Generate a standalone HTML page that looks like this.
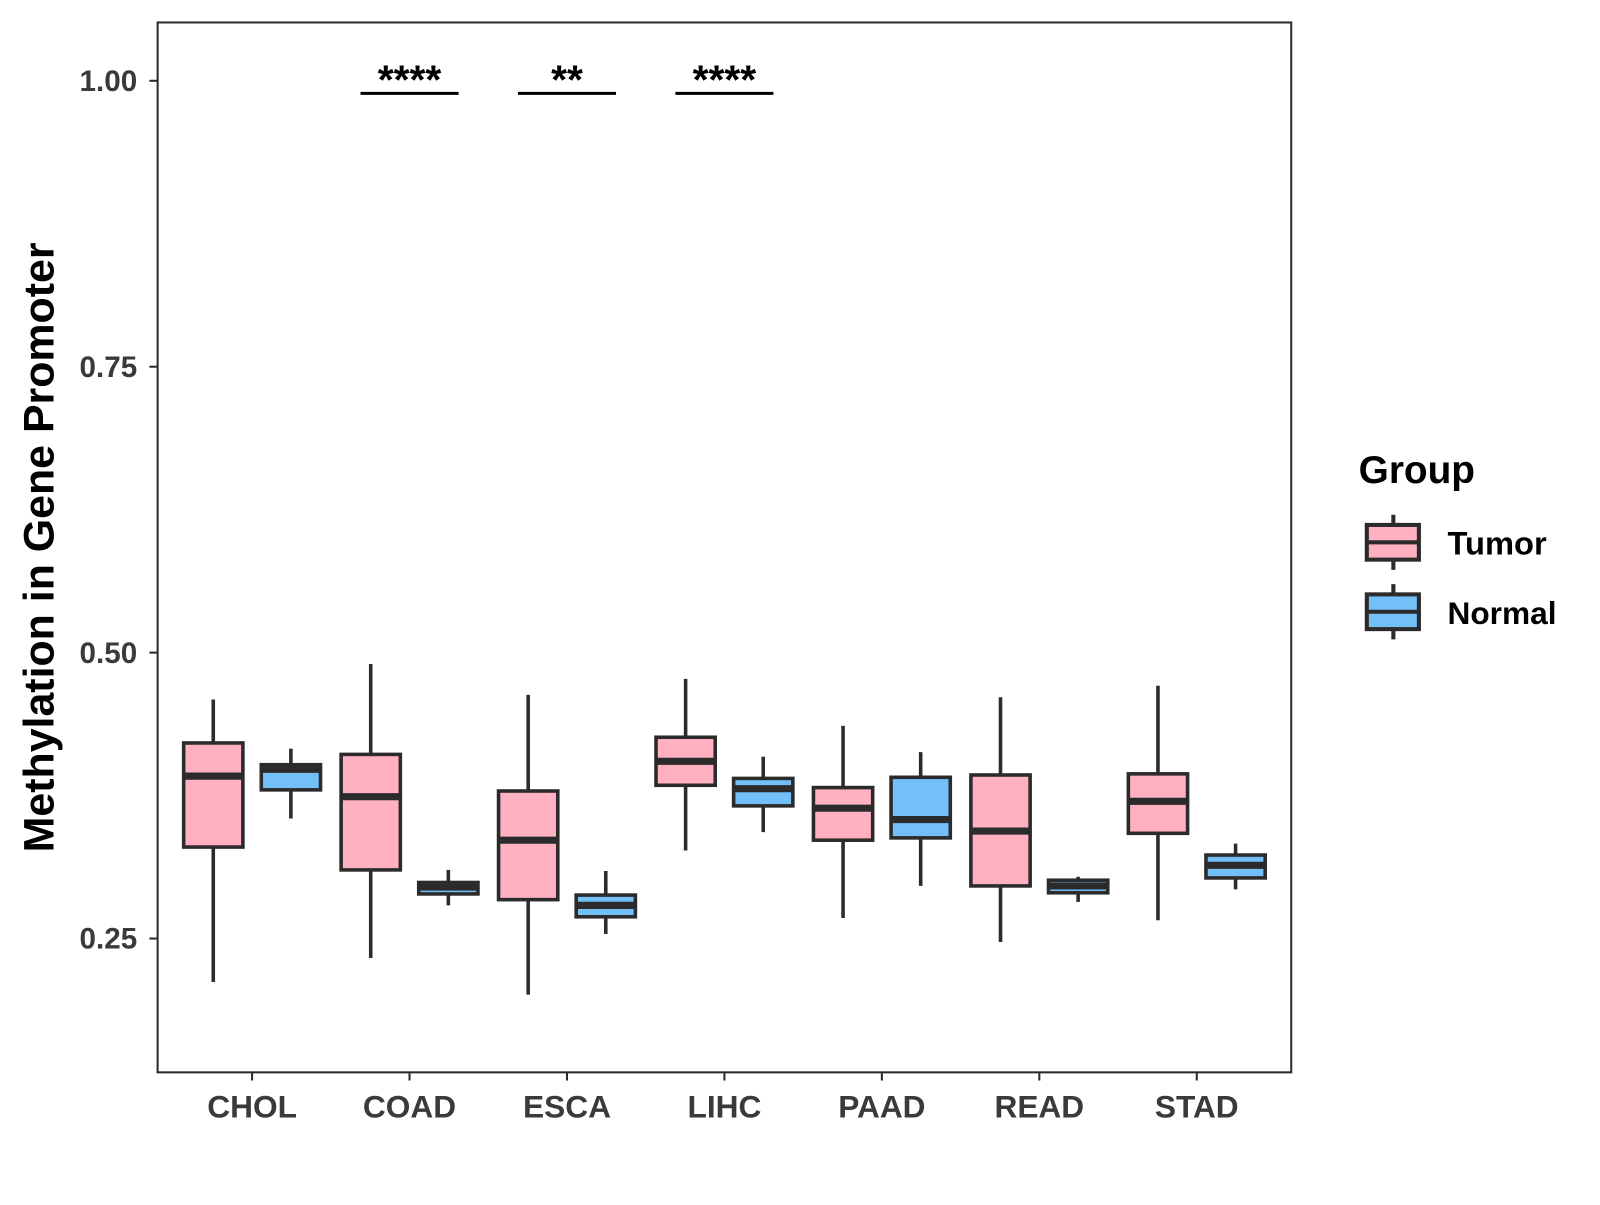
<!DOCTYPE html>
<html><head><meta charset="utf-8"><style>body{margin:0;background:#fff}svg text{font-family:"Liberation Sans",Arial,sans-serif;font-weight:bold}</style></head>
<body>
<svg id="chart" width="1600" height="1200" viewBox="0 0 1566 1175">
<rect x="154" y="22" width="1110" height="1028" fill="#fff" stroke="#2b2b2b" stroke-width="2"/>
<g id="marks"></g>
<text transform="translate(52,536) rotate(-90)" text-anchor="middle" font-size="42" fill="#000">Methylation in Gene Promoter</text>
<g>
<text x="1330" y="473" font-size="38" fill="#000">Group</text>
<g>
<line x1="1364" y1="504" x2="1364" y2="558" stroke="#2b2b2b" stroke-width="4"/>
<rect x="1338" y="514" width="51" height="34" fill="#FFB0C1" stroke="#2b2b2b" stroke-width="4"/>
<line x1="1338" y1="531" x2="1389" y2="531" stroke="#2b2b2b" stroke-width="4"/>
<text x="1417" y="543" font-size="32" fill="#000">Tumor</text></g>
<g>
<line x1="1364" y1="572" x2="1364" y2="626" stroke="#2b2b2b" stroke-width="4"/>
<rect x="1338" y="582" width="51" height="34" fill="#73BFF8" stroke="#2b2b2b" stroke-width="4"/>
<line x1="1338" y1="599" x2="1389" y2="599" stroke="#2b2b2b" stroke-width="4"/>
<text x="1417" y="611" font-size="31" fill="#000">Normal</text></g>
</g>
</svg>
<script>
const categories=["CHOL","COAD","ESCA","LIHC","PAAD","READ","STAD"];
// [whiskerLow, Q1, median, Q3, whiskerHigh]
const tumorStats=[[0.212,0.330,0.392,0.421,0.459],[0.233,0.310,0.374,0.411,0.490],[0.201,0.284,0.336,0.379,0.463],[0.327,0.384,0.405,0.426,0.477],[0.268,0.336,0.364,0.382,0.436],[0.247,0.296,0.344,0.393,0.461],[0.266,0.342,0.370,0.394,0.471]];
const normalStats=[[0.355,0.380,0.398,0.402,0.416],[0.279,0.289,0.295,0.299,0.310],[0.254,0.269,0.279,0.288,0.309],[0.343,0.366,0.381,0.390,0.409],[0.296,0.338,0.354,0.391,0.413],[0.282,0.290,0.296,0.301,0.304],[0.293,0.303,0.314,0.323,0.333]];
const yTicks=[0.25,0.50,0.75,1.00];
const yTickLabels=["0.25","0.50","0.75","1.00"];
const sigCategories=["COAD","ESCA","LIHC"];
const sigLabels=["****","**","****"];
const sigLevel=0.989;
const NS="http://www.w3.org/2000/svg";
const yMin=0.133,yMax=1.051,pTop=22,pBot=1050,pLeft=154,pRight=1264;
function y(v){return pBot-(v-yMin)/(yMax-yMin)*(pBot-pTop);}
const unit=(pRight-pLeft)/(categories.length-1+1.2);
function x(i){return pLeft+(i+0.6)*unit;}
const g=document.getElementById('marks');
function el(t,a,p){const e=document.createElementNS(NS,t);for(const k in a)e.setAttribute(k,a[k]);(p||g).appendChild(e);return e;}
yTicks.forEach((v,i)=>{
 const t=el('line',{x1:146,x2:154,y1:y(v),y2:y(v),stroke:'#2b2b2b','stroke-width':2});
 
 
 const l=el('text',{x:134,y:y(v)+10,'text-anchor':'end','font-size':29,fill:'#3a3a3a'});l.textContent=yTickLabels[i];
 
 
});
categories.forEach((c,i)=>{
 const t=el('line',{x1:x(i),x2:x(i),y1:1050,y2:1058,stroke:'#2b2b2b','stroke-width':2});
 
 
 const l=el('text',{x:x(i),y:1094,'text-anchor':'middle','font-size':31,fill:'#3a3a3a'});l.textContent=c;
 
 
 [[tumorStats[i],-38,'#FFB0C1','tumor'],[normalStats[i],38,'#73BFF8','normal']].forEach(([s,off,col,nm])=>{
  const cx=x(i)+off,w=58;
  const bg=el('g',{});
  
  
  el('line',{x1:cx,x2:cx,y1:y(s[0]),y2:y(s[4]),stroke:'#2b2b2b','stroke-width':3.5},bg);
  el('rect',{x:cx-w/2,y:y(s[3]),width:w,height:y(s[1])-y(s[3]),fill:col,stroke:'#2b2b2b','stroke-width':3.5},bg);
  el('line',{x1:cx-w/2,x2:cx+w/2,y1:y(s[2]),y2:y(s[2]),stroke:'#2b2b2b','stroke-width':7},bg);
 });
});
sigCategories.forEach((c,k)=>{
 const i=categories.indexOf(c);
 const b=el('line',{x1:x(i)-48,x2:x(i)+48,y1:y(sigLevel),y2:y(sigLevel),stroke:'#000','stroke-width':3});
 
 
 const t=el('text',{x:x(i),y:y(sigLevel)+0,'text-anchor':'middle','font-size':40,fill:'#000'});t.textContent=sigLabels[k];
 
 
});
</script>
</body></html>
